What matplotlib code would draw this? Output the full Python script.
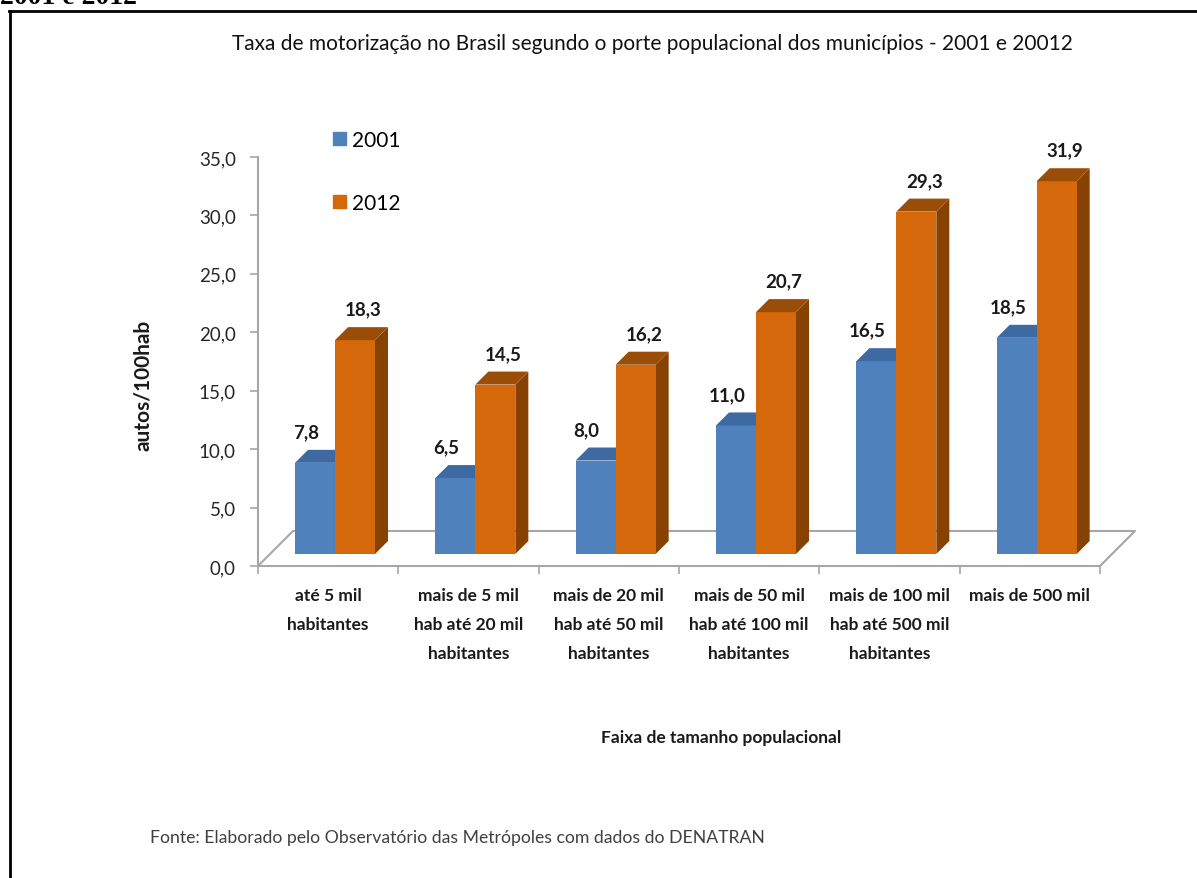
import numpy as np
import matplotlib
matplotlib.rcParams["font.family"] = ["Lato", "DejaVu Sans"]
import matplotlib.pyplot as plt
from matplotlib.patches import Polygon, Patch
from matplotlib.lines import Line2D

categories = [
    "até 5 mil\nhabitantes",
    "mais de 5 mil\nhab até 20 mil\nhabitantes",
    "mais de 20 mil\nhab até 50 mil\nhabitantes",
    "mais de 50 mil\nhab até 100 mil\nhabitantes",
    "mais de 100 mil\nhab até 500 mil\nhabitantes",
    "mais de 500 mil",
]
series = ["2001", "2012"]
rate_2001 = [7.8, 6.5, 8.0, 11.0, 16.5, 18.5]
rate_2012 = [18.3, 14.5, 16.2, 20.7, 29.3, 31.9]
y_ticks = [0, 5, 10, 15, 20, 25, 30, 35]

W, H = 1197, 879
fig = plt.figure(figsize=(W / 100, H / 100), dpi=100)
ax = fig.add_axes([258 / W, 1 - 567 / H, 842 / W, 409 / H])
ax.set_xlim(0, len(categories))
ax.set_ylim(0, 35)

# pixel sizes -> data units
sx = 842 / len(categories)
sy = 409 / 35.0
def px_x(p):
    return p / sx
def px_y(p):
    return p / sy

grid_col = "#a6a6a6"
front_cols = ["#4f81bd", "#d4680a"]
top_cols = ["#3d6aa3", "#9a4d06"]
side_cols = ["#35598a", "#874202"]

# 3d floor
fd_x, fd_y = px_x(35), px_y(35)
n = len(categories)
ax.plot([0, fd_x, n + fd_x, n], [0, fd_y, fd_y, 0], color=grid_col,
        lw=1.5, clip_on=False, zorder=1)

shift_x, shift_y = px_x(12), px_y(12)
dep_x, dep_y = px_x(13), px_y(13)
bw = px_x(40)
x0 = np.arange(n) + px_x(25) + shift_x

for j, (vals, name) in enumerate(zip([rate_2001, rate_2012], series)):
    xs = x0 + j * bw
    z = 2 + 3 * j
    ax.bar(xs, vals, width=bw, bottom=shift_y, align="edge",
           color=front_cols[j], zorder=z + 1, label=name)
    for x, v in zip(xs, vals):
        top = shift_y + v
        side = Polygon([(x + bw, shift_y), (x + bw + dep_x, shift_y + dep_y),
                        (x + bw + dep_x, top + dep_y), (x + bw, top)],
                       closed=True, color=side_cols[j], zorder=z, lw=0)
        cap = Polygon([(x, top), (x + bw, top), (x + bw + dep_x, top + dep_y),
                       (x + dep_x, top + dep_y)],
                      closed=True, color=top_cols[j], zorder=z + 1, lw=0)
        ax.add_patch(side)
        ax.add_patch(cap)
        off = -px_x(9) if j == 0 else px_x(8)
        ax.text(x + bw / 2 + off, top + px_y(31), f"{v:.1f}".replace(".", ","),
                ha="center", va="center", fontsize=13.5, fontweight="bold",
                color="#1a1a1a", zorder=10)

for s in ["top", "right"]:
    ax.spines[s].set_visible(False)
for s in ["left", "bottom"]:
    ax.spines[s].set_color(grid_col)
    ax.spines[s].set_linewidth(1.5)

ax.set_yticks(y_ticks)
ax.set_yticklabels([f"{t:.1f}".replace(".", ",") for t in y_ticks])
ax.tick_params(axis="y", length=6, width=1.2, color=grid_col, pad=10,
               labelsize=13.5, labelcolor="#262626")
ax.set_xticks(np.arange(n + 1))
ax.set_xticklabels([])
ax.tick_params(axis="x", which="major", length=6, width=1.2, color=grid_col)
ax.set_xticks(np.arange(n) + 0.5, minor=True)
ax.set_xticklabels(categories, minor=True, fontsize=12.5, fontweight="bold",
                   linespacing=2.0, va="top", color="#1a1a1a")
ax.tick_params(axis="x", which="minor", length=0, pad=15)

fig.text(143 / W, 1 - 385 / H, "autos/100hab", rotation=90, ha="center",
         va="center", fontsize=15, fontweight="bold", color="#1a1a1a")
fig.text(721 / W, 1 - 738 / H, "Faixa de tamanho populacional", ha="center",
         va="center", fontsize=12.5, fontweight="bold", color="#1a1a1a")
fig.text(652 / W, 1 - 44 / H,
         "Taxa de motorização no Brasil segundo o porte populacional dos municípios - 2001 e 20012",
         ha="center", va="center", fontsize=15, color="#111111")
fig.text(150 / W, 1 - 838 / H,
         "Fonte: Elaborado pelo Observatório das Metrópoles com dados do DENATRAN",
         ha="left", va="center", fontsize=12.7, color="#404040")
fig.text(0, 1 - 4 / H, "2001 e 2012", ha="left", va="baseline",
         fontsize=20, fontweight="bold", family="Liberation Serif")

handles = [Patch(color=c) for c in front_cols]
fig.legend(handles, series, loc="upper left",
           bbox_to_anchor=(333 / W, 1 - 131 / H), frameon=False,
           fontsize=15, handlelength=0.6, handleheight=0.6,
           handletextpad=0.3, labelspacing=2.05, borderpad=0,
           borderaxespad=0)

# page frame
fig.add_artist(Line2D([9 / W, 1], [1 - 12 / H, 1 - 12 / H], color="black",
                      lw=2, transform=fig.transFigure))
fig.add_artist(Line2D([10 / W, 10 / W], [0, 1 - 12 / H], color="black",
                      lw=2, transform=fig.transFigure))

plt.savefig("out.png", dpi=100)
